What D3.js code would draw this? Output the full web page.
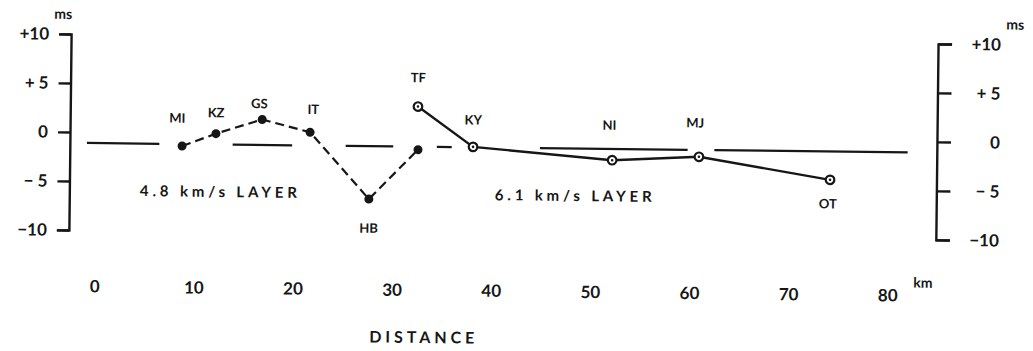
<!DOCTYPE html>
<html>
<head>
<meta charset="utf-8">
<script src="https://cdn.jsdelivr.net/npm/d3@7"></script>
<style>
  html, body { margin: 0; padding: 0; background: #fff; }
  text { font-family: Lato, 'DejaVu Sans', sans-serif; font-weight: 700; fill: #161616; }
</style>
</head>
<body>
<div class="chartContainer"></div>
<script>
// Delay residuals (ms) against distance (km)
const stations48 = ['MI', 'KZ', 'GS', 'IT', 'HB', 'TF'];
const dist48 = [8.7, 12.1, 16.75, 21.6, 27.6, 32.5];
const delay48 = [-1.3, 0.0, 1.5, 0.25, -6.5, -1.4];

const stations61 = ['TF', 'KY', 'NI', 'MJ', 'OT'];
const dist61 = [32.45, 38.05, 52.1, 60.85, 74.1];
const delay61 = [3.0, -1.05, -2.25, -1.8, -4.0];

// Horizontal reference level, drawn in broken pieces (km ranges)
const refLevel = -1.1;
const refSegments = [[-0.9, 6.4], [13.8, 19.8], [25.2, 30.0], [34.4, 35.9], [44.8, 59.7], [62.4, 81.9]];

const xTicks = [0, 10, 20, 30, 40, 50, 60, 70, 80];
const yTicks = [-10, -5, 0, 5, 10];
const yTickLabels = ['\u221210', '\u2212 5', '0', '+ 5', '+10'];

const layerLabels = ['4.8 km/s LAYER', '6.1 km/s LAYER'];

// which station gets a name, and where it sits relative to its mark (px)
const nameOffset = {
  MI: [-5, -28], KZ: [0, -21], GS: [-3, -16], IT: [3, -23], HB: [0, 29],
  TF: [0, -29], KY: [0, -27], NI: [-3, -35], MJ: [-4, -34], OT: [-2, 24]
};

const ink = '#161616';
const width = 1033;
const height = 351;

const series48 = stations48.map((s, i) => ({ name: s, km: dist48[i], ms: delay48[i] }));
const series61 = stations61.map((s, i) => ({ name: s, km: dist61[i], ms: delay61[i] }));

const xScale = d3.scaleLinear().domain([0, 80]).range([96, 889]);
const yScale = d3.scaleLinear().domain([-10, 10]).range([230, 34]);

const root = d3.select('div.chartContainer').append('svg')
  .attr('width', width)
  .attr('height', height);

root.append('rect').attr('width', width).attr('height', height).attr('fill', '#fff');

// the scanned figure is slightly tilted, so everything goes into a rotated group
const svg = root.append('g')
  .attr('transform', 'rotate(0.65,70,' + yScale(0) + ')');

// left axis
const left = svg.append('g')
  .attr('transform', 'translate(70,0)')
  .call(d3.axisLeft(yScale).tickValues(yTicks)
    .tickFormat((d, i) => yTickLabels[i])
    .tickSize(12).tickSizeOuter(12).tickPadding(10));

// right axis, labels right-aligned like the original
const right = svg.append('g')
  .attr('transform', 'translate(937,0)')
  .call(d3.axisRight(yScale).tickValues(yTicks)
    .tickFormat((d, i) => yTickLabels[i])
    .tickSize(14).tickSizeOuter(14).tickPadding(10));
right.selectAll('text').attr('text-anchor', 'end').attr('x', 63);

[left, right].forEach(ax => {
  ax.selectAll('path, line').attr('stroke', ink).attr('stroke-width', 2.4);
  ax.selectAll('text').attr('font-size', 17).attr('fill', ink)
    .attr('font-family', 'Lato, sans-serif').attr('font-weight', 700);
});

// distance labels, no axis line
const bottom = svg.append('g')
  .attr('transform', 'translate(0,280)')
  .call(d3.axisBottom(xScale).tickValues(xTicks).tickSize(0).tickPadding(0));
bottom.select('path.domain').remove();
bottom.selectAll('text').attr('font-size', 17).attr('fill', ink)
  .attr('font-family', 'Lato, sans-serif').attr('font-weight', 700);

// unit labels
svg.append('text').attr('x', 62).attr('y', 19).attr('text-anchor', 'middle')
  .attr('font-size', 14).text('ms');
svg.append('text').attr('x', 1014).attr('y', 19).attr('text-anchor', 'middle')
  .attr('font-size', 14).text('ms');
svg.append('text').attr('x', xScale(83.6)).attr('y', 278).attr('text-anchor', 'middle')
  .attr('font-size', 14).text('km');
svg.append('text').attr('x', xScale(33.1)).attr('y', 339).attr('text-anchor', 'middle')
  .attr('font-size', 16).attr('textLength', 105).attr('lengthAdjust', 'spacing')
  .text('DISTANCE');

// reference level pieces
svg.selectAll('line.ref')
  .data(refSegments)
  .enter().append('line')
  .attr('class', 'ref')
  .attr('x1', d => xScale(d[0]))
  .attr('x2', d => xScale(d[1]))
  .attr('y1', yScale(refLevel))
  .attr('y2', yScale(refLevel))
  .attr('stroke', ink)
  .attr('stroke-width', 2.2);

const line = d3.line()
  .x(d => xScale(d.km))
  .y(d => yScale(d.ms));

// 4.8 km/s layer: dashed line, solid dots
svg.append('path')
  .datum(series48)
  .attr('fill', 'none')
  .attr('stroke', ink)
  .attr('stroke-width', 2.2)
  .attr('stroke-dasharray', '9,5')
  .attr('d', line);

svg.selectAll('circle.dot48')
  .data(series48)
  .enter().append('circle')
  .attr('class', 'dot48')
  .attr('cx', d => xScale(d.km))
  .attr('cy', d => yScale(d.ms))
  .attr('r', 4.5)
  .attr('fill', ink);

// 6.1 km/s layer: solid line, ringed points
svg.append('path')
  .datum(series61)
  .attr('fill', 'none')
  .attr('stroke', ink)
  .attr('stroke-width', 2.4)
  .attr('d', line);

const rings = svg.selectAll('g.ring')
  .data(series61)
  .enter().append('g')
  .attr('class', 'ring')
  .attr('transform', d => 'translate(' + xScale(d.km) + ',' + yScale(d.ms) + ')');
rings.append('circle').attr('r', 4.3).attr('fill', '#fff').attr('stroke', ink).attr('stroke-width', 2.2);
rings.append('circle').attr('r', 1.3).attr('fill', ink);

// station names (TF only named once, on its 6.1 point)
const named = series48.filter(d => d.name !== 'TF').concat(series61);
svg.selectAll('text.station')
  .data(named)
  .enter().append('text')
  .attr('class', 'station')
  .attr('x', d => xScale(d.km) + nameOffset[d.name][0])
  .attr('y', d => yScale(d.ms) + nameOffset[d.name][1])
  .attr('dy', '0.36em')
  .attr('text-anchor', 'middle')
  .attr('font-size', 13)
  .text(d => d.name);

// layer captions
svg.selectAll('text.layer')
  .data(layerLabels)
  .enter().append('text')
  .attr('class', 'layer')
  .attr('x', (d, i) => xScale(i === 0 ? 4.5 : 40.3))
  .attr('y', yScale(-5.9) + 5.5)
  .attr('font-size', 15)
  .attr('textLength', 157)
  .attr('lengthAdjust', 'spacing')
  .text(d => d);
</script>
</body>
</html>
